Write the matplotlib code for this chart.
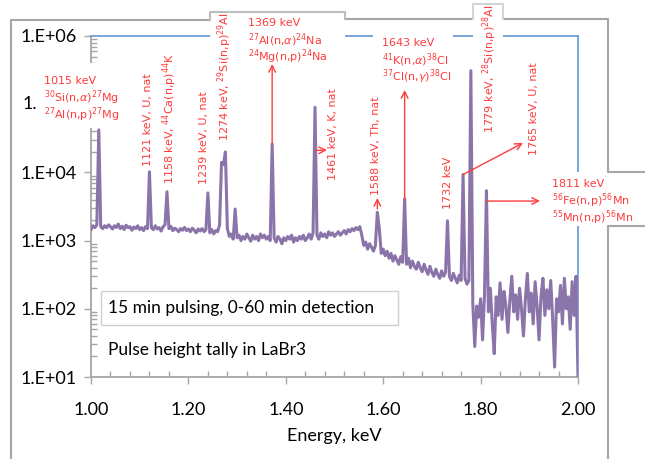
import numpy as np
import matplotlib
matplotlib.use("Agg")
import matplotlib.pyplot as plt
from matplotlib.patches import Rectangle
from matplotlib.lines import Line2D
from matplotlib.ticker import FuncFormatter, MultipleLocator, LogLocator, NullFormatter

# ════════════════════════════════════════════════════════════════════════════
# 1. DATOS  (espectro, canales de 0.004 keV)
# ════════════════════════════════════════════════════════════════════════════
E_INICIO, E_PASO = 1.000, 0.004
cuentas = [
    1450, 1650, 1550, 1700, 42000, 1600, 1500, 1650, 1550, 1700,      # 1.000
    1600, 1480, 1650, 1560, 1750, 1500, 1620, 1450, 1680, 1550,       # 1.040
    1600, 1420, 1580, 1500, 1650, 1450, 1550, 1400, 1600, 1500,       # 1.080
    10200, 1550, 1450, 1650, 1480, 1550, 1380, 1600, 1700, 5200,      # 1.120
    1500, 1620, 1400, 1520, 1450, 1350, 1500, 1420, 1560, 1400,       # 1.160
    1480, 1350, 1520, 1420, 1300, 1480, 1380, 1500, 1350, 1450,       # 1.200
    5000, 1300, 1450, 1250, 1400, 1350, 1700, 14000, 13000, 20000,    # 1.240
    1500, 1150, 1250, 1050, 2900, 1100, 1200, 1000, 1150, 1050,       # 1.280
    1250, 1100, 980, 1200, 1050, 1150, 1000, 1250, 1100, 1200,        # 1.320
    1050, 1150, 1000, 26000, 1100, 950, 1150, 1050, 900, 1100,        # 1.360
    1000, 1150, 1050, 1200, 950, 1100, 1000, 1150, 1050, 1200,        # 1.400
    1000, 1100, 1250, 1050, 1300, 90000, 1200, 1050, 1300, 1150,      # 1.440
    1250, 1100, 1350, 1200, 1300, 1150, 1250, 1350, 1200, 1300,       # 1.480
    1400, 1250, 1450, 1350, 1500, 1400, 1550, 1450, 1600, 1200,       # 1.520
    850, 950, 750, 900, 800, 700, 850, 2600, 1500, 650,               # 1.560
    750, 600, 700, 550, 650, 500, 600, 520, 450, 580,                 # 1.600
    480, 4100, 450, 550, 400, 500, 420, 380, 480, 400,                # 1.640
    350, 450, 370, 320, 420, 340, 300, 380, 320, 280,                 # 1.680
    360, 300, 340, 1950, 300, 260, 330, 280, 240, 310,                # 1.720
    260, 9300, 280, 230, 260, 310000, 120, 28, 110, 75,               # 1.760
    140, 35, 160, 5400, 90, 200, 60, 22, 150, 80,                     # 1.800
    240, 70, 180, 110, 45, 130, 300, 90, 160, 70,                     # 1.840
    200, 100, 40, 140, 330, 90, 170, 60, 250, 110,                    # 1.880
    35, 150, 280, 80, 190, 100, 260, 70, 14, 140,                     # 1.920
    90, 220, 60, 280, 100, 150, 50, 250, 80, 300,                     # 1.960
    10,                                                               # 2.000
]
energia = E_INICIO + E_PASO * np.arange(len(cuentas))

# Etiquetas verticales de picos: (texto, x_px, y_px inferior)
etiquetas_vert = [
    ("1121 keV, U, nat", 148, 166),
    ("1158 keV, $^{44}$Ca(n,p)$^{44}$K", 170, 184),
    ("1239 keV, U, nat", 204, 184),
    ("1274 keV, $^{29}$Si(n,p)$^{29}$Al", 225, 141),
    ("1461 keV, K, nat", 333, 180),
    ("1588 keV, Th, nat", 376, 195),
    ("1732 keV", 448, 209),
    ("1779 keV, $^{28}$Si(n,p)$^{28}$Al", 490, 133),
    ("1765 keV, U, nat", 534, 155),
]

# Bloques horizontales: (líneas, x_px, y_px primera línea)
bloques = [
    (["1015 keV", r"$^{30}$Si(n,$\alpha$)$^{27}$Mg", r"$^{27}$Al(n,p)$^{27}$Mg"], 44, 81),
    (["1369 keV", r"$^{27}$Al(n,$\alpha$)$^{24}$Na", r"$^{24}$Mg(n,p)$^{24}$Na"], 248, 23),
    (["1643 keV", r"$^{41}$K(n,$\alpha$)$^{38}$Cl", r"$^{37}$Cl(n,$\gamma$)$^{38}$Cl"], 382, 43),
    (["1811 keV", r"$^{56}$Fe(n,p)$^{56}$Mn", r"$^{55}$Mn(n,p)$^{56}$Mn"], 552, 184),
]

# ════════════════════════════════════════════════════════════════════════════
# 2. FIGURA
# ════════════════════════════════════════════════════════════════════════════
W, H = 645, 459
ROJO = "#ff3b3b"
GRIS = "#a6a6a6"
AZUL = "#6f9fd6"


def fp(x, y):
    """pixel (origen arriba-izquierda) -> fracción de figura"""
    return (x / W, 1 - y / H)


def etiqueta_y(v, _):
    n = int(round(np.log10(v)))
    # la etiqueta 1.E+05 queda tapada por la caja de 1015 keV en el original
    return "" if n == 5 else f"1.E+{n:02d}"


fig = plt.figure(figsize=(W / 100, H / 100), dpi=100)
ax = fig.add_axes([91 / W, 1 - 377 / H, 487 / W, 341 / H])

ax.plot(energia, cuentas, color="#8b74a9", lw=2.2, zorder=3)

ax.set_yscale("log")
ax.set_ylim(10, 1e6)
ax.set_xlim(1.0, 2.0)

ax.xaxis.set_major_locator(MultipleLocator(0.2))
ax.xaxis.set_minor_locator(MultipleLocator(0.04))
ax.xaxis.set_major_formatter(FuncFormatter(lambda v, _: f"{v:.2f}"))
ax.yaxis.set_major_locator(LogLocator(base=10))
ax.yaxis.set_minor_locator(LogLocator(base=10, subs=np.arange(2, 10)))
ax.yaxis.set_minor_formatter(NullFormatter())
ax.yaxis.set_major_formatter(FuncFormatter(etiqueta_y))

fuente = "Lato"
ax.tick_params(which="major", direction="out", length=5, width=1, color=GRIS,
               labelsize=13, labelfontfamily=fuente)
ax.tick_params(which="minor", direction="in", length=4, width=1, color=GRIS)
ax.tick_params(axis="x", which="major", pad=13)
ax.tick_params(axis="y", which="major", pad=5)

for lado in ["left", "bottom"]:
    ax.spines[lado].set_color(GRIS)
    ax.spines[lado].set_linewidth(1.3)
for lado in ["top", "right"]:
    ax.spines[lado].set_color(AZUL)
    ax.spines[lado].set_linewidth(1.3)

ax.set_xlabel("Energy, keV", fontsize=13, family=fuente, labelpad=7)

# resto visible de la etiqueta 1.E+05
fig.text(*fp(23, 104), "1.", fontsize=13, family=fuente, ha="left", va="center")

# Recuadro de texto
ax.add_patch(Rectangle(fp(101, 325), 297 / W, 34 / H, transform=fig.transFigure,
                       facecolor="white", edgecolor="#cfcfcf", lw=1, zorder=8, clip_on=False))
ax.text(*fp(108, 308), "15 min pulsing, 0-60 min detection", transform=fig.transFigure,
        fontsize=12.5, family=fuente, va="center", ha="left", zorder=9)
ax.text(*fp(108, 350), "Pulse height tally in LaBr3", transform=fig.transFigure,
        fontsize=12.5, family=fuente, va="center", ha="left", zorder=9)

# Cajas blancas de las anotaciones (tapan ejes)
cajas = [(38, 63, 135, 128), (210, 12, 345, 68), (373, 28, 453, 84),
         (473, 4, 503, 50), (545, 172, 645, 226)]
for x0, y0, x1, y1 in cajas:
    ax.add_patch(Rectangle(fp(x0, y1), (x1 - x0) / W, (y1 - y0) / H,
                           transform=fig.transFigure, facecolor="white",
                           edgecolor="none", zorder=10, clip_on=False))

# Textos rojos
for txt, x, y in etiquetas_vert:
    ax.text(*fp(x, y), txt, transform=fig.transFigure, rotation=90, ha="center",
            va="bottom", color=ROJO, fontsize=8, zorder=12)
for lineas, x, y in bloques:
    for k, linea in enumerate(lineas):
        ax.text(*fp(x, y + 16.8 * k), linea, transform=fig.transFigure, ha="left",
                va="center", color=ROJO, fontsize=8, zorder=12)

# Flechas: desde el pico hacia la etiqueta
flecha = dict(arrowstyle="->", color=ROJO, lw=1.0, shrinkA=0, shrinkB=0,
              mutation_scale=12)
i1369 = int(np.argmax(np.array(cuentas[85:100]))) + 85
i1643 = 161
for i, y_px in [(i1369, 64), (i1643, 90)]:
    ax.annotate("", xy=(energia[i], fp(0, y_px)[1]), xycoords=("data", "figure fraction"),
                xytext=(energia[i], cuentas[i]), textcoords="data",
                arrowprops=flecha, zorder=12, annotation_clip=False)
ax.annotate("", xy=fp(327, 150), xycoords="figure fraction",
            xytext=(energia[115], 21000), textcoords="data",
            arrowprops=flecha, zorder=12, annotation_clip=False)
ax.annotate("", xy=(energia[147], fp(0, 198)[1]), xycoords=("data", "figure fraction"),
            xytext=(energia[147], 2900), textcoords="data",
            arrowprops=flecha, zorder=12, annotation_clip=False)
ax.annotate("", xy=fp(523, 143), xycoords="figure fraction",
            xytext=(energia[191], cuentas[191]), textcoords="data",
            arrowprops=flecha, zorder=12, annotation_clip=False)
ax.annotate("", xy=fp(540, 201), xycoords="figure fraction",
            xytext=(energia[203], 3800), textcoords="data",
            arrowprops=flecha, zorder=12, annotation_clip=False)

# Marco exterior (collage)
marco = [
    ([(11, 459), (11, 20), (210, 20)], GRIS),
    ([(345, 19), (473, 19)], GRIS),
    ([(503, 19), (608, 19), (608, 172), (645, 172)], GRIS),
    ([(645, 226), (608, 226), (608, 459)], GRIS),
    ([(210, 20), (210, 12), (345, 12), (345, 19)], "#bdbdbd"),
    ([(473, 19), (473, 4), (503, 4), (503, 19)], "#d4d4d4"),
]
for pts, col in marco:
    xs, ys = zip(*[fp(x, y) for x, y in pts])
    fig.add_artist(Line2D(xs, ys, transform=fig.transFigure, color=col, lw=1.5, zorder=5))

fig.savefig("out.png", dpi=100)
